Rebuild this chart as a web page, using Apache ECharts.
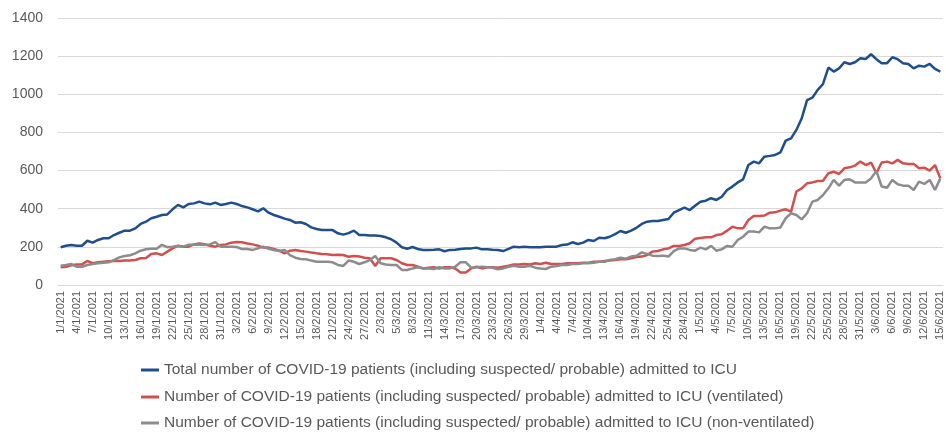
<!DOCTYPE html>
<html>
<head>
<meta charset="utf-8">
<script src="https://cdn.jsdelivr.net/npm/echarts@6/dist/echarts.min.js"></script>
<style>
html,body{margin:0;padding:0;background:#fff;}
#chart{width:946px;height:432px;}
</style>
</head>
<body>
<div id="chart"></div>
<script>
// Categories: daily dates 1/1/2021 .. 15/6/2021
var startDate = [2021, 0, 1];
var dayCount = 166;
var categories = [];
(function () {
  var d = new Date(Date.UTC(startDate[0], startDate[1], startDate[2]));
  for (var i = 0; i < dayCount; i++) {
    categories.push(d.getUTCDate() + '/' + (d.getUTCMonth() + 1) + '/' + d.getUTCFullYear());
    d.setUTCDate(d.getUTCDate() + 1);
  }
})();

var seriesNames = [
  'Total number of COVID-19 patients (including suspected/ probable) admitted to ICU',
  'Number of COVID-19 patients (including suspected/ probable) admitted to ICU (ventilated)',
  'Number of COVID-19 patients (including suspected/ probable) admitted to ICU (non-ventilated)'
];

var totalICU = [
  198,206,210,206,206,232,222,236,245,245,262,274,285,285,297,320,332,350,358,367,
  370,397,420,407,425,428,437,428,423,432,420,425,432,425,414,407,397,386,402,379,
  367,358,348,341,327,329,320,302,294,288,288,288,271,264,272,285,262,262,260,259,
  257,250,240,222,198,190,199,189,184,184,185,187,177,184,185,189,192,192,196,187,
  187,185,184,178,189,201,198,201,198,198,198,201,201,201,210,212,224,215,222,236,
  231,248,245,253,267,283,274,285,300,320,332,336,336,341,346,379,393,406,393,416,
  437,442,455,446,463,498,516,538,554,629,647,638,673,677,682,695,757,769,813,874,
  969,982,1023,1054,1140,1119,1136,1168,1159,1168,1189,1185,1210,1184,1163,1163,1194,1184,1163,1159,
  1136,1150,1145,1159,1133,1119
];

var ventilated = [
  93,96,103,107,108,126,114,119,122,124,126,126,128,128,131,140,142,162,166,157,
  175,192,206,201,201,213,218,214,206,201,210,213,222,225,224,218,213,206,196,196,
  189,180,166,180,184,178,175,170,166,163,161,157,159,157,148,152,149,143,140,100,
  140,140,140,131,114,105,105,96,87,91,93,87,93,93,87,65,65,87,96,87,
  93,93,91,96,101,108,108,110,108,114,110,117,110,110,110,114,114,114,117,117,
  122,122,126,128,131,135,135,140,147,149,157,175,178,187,192,205,205,210,219,243,
  247,250,250,262,266,285,306,297,297,341,362,362,364,379,381,390,397,385,490,507,
  533,538,545,547,586,594,582,612,617,626,647,629,642,586,642,647,638,656,638,635,
  635,612,615,600,629,559
];

var nonVentilated = [
  101,105,110,96,96,105,110,114,117,119,131,145,152,156,166,180,187,190,190,211,
  198,201,205,201,211,211,211,210,213,225,201,201,201,199,189,189,184,192,201,190,
  184,178,184,157,143,136,135,128,122,122,122,119,105,100,128,122,110,119,131,152,
  114,108,105,105,79,79,87,93,87,87,84,93,87,87,96,119,119,91,93,96,
  93,90,82,87,96,101,96,96,101,91,87,84,96,99,105,105,110,110,114,114,
  117,122,122,131,135,143,138,149,153,171,163,154,152,154,149,178,192,192,184,180,
  196,187,205,180,187,205,201,236,253,280,280,276,306,297,297,302,350,376,367,344,
  376,437,446,472,507,551,521,551,554,538,537,538,559,598,516,510,551,528,521,521,
  498,542,530,551,498,559
];

var yTicks = { min: 0, max: 1400, interval: 200 };
var colors = ['#1f4e8c', '#d0504f', '#8c8c8c'];
var seriesData = [totalICU, ventilated, nonVentilated];
var legendTops = [357, 384, 410];

var chart = echarts.init(document.getElementById('chart'), null, { renderer: 'canvas' });
var font = '"Liberation Sans", Arial, sans-serif';

chart.setOption({
  animation: false,
  backgroundColor: '#ffffff',
  color: colors,
  grid: { left: 58, right: 3, top: 18, bottom: 147, containLabel: false },
  xAxis: {
    type: 'category',
    data: categories,
    boundaryGap: true,
    axisLine: { show: true, lineStyle: { color: '#d9d9d9', width: 1 } },
    axisTick: { show: false },
    axisLabel: {
      interval: 2,
      rotate: 90,
      color: '#595959',
      fontSize: 11,
      fontFamily: font,
      margin: 6
    },
    splitLine: { show: false }
  },
  yAxis: {
    type: 'value',
    min: yTicks.min,
    max: yTicks.max,
    interval: yTicks.interval,
    axisLine: { show: false },
    axisTick: { show: false },
    axisLabel: {
      color: '#595959', fontSize: 14, fontFamily: font, margin: 15,
      formatter: function (v) { return String(v); }
    },
    splitLine: { show: true, lineStyle: { color: '#d9d9d9', width: 1 } }
  },
  legend: seriesNames.map(function (name, i) {
    return {
      orient: 'horizontal',
      left: 136,
      top: legendTops[i],
      itemWidth: 18,
      itemHeight: 3,
      itemGap: 0,
      icon: 'rect',
      textStyle: { color: '#595959', fontSize: 15.5, fontFamily: font, lineHeight: 16 },
      data: [name]
    };
  }),
  series: seriesNames.map(function (name, i) {
    return {
      name: name,
      type: 'line',
      data: seriesData[i],
      symbol: 'none',
      smooth: false,
      lineStyle: { width: 2.5, color: colors[i] },
      itemStyle: { color: colors[i] }
    };
  })
});
</script>
</body>
</html>
